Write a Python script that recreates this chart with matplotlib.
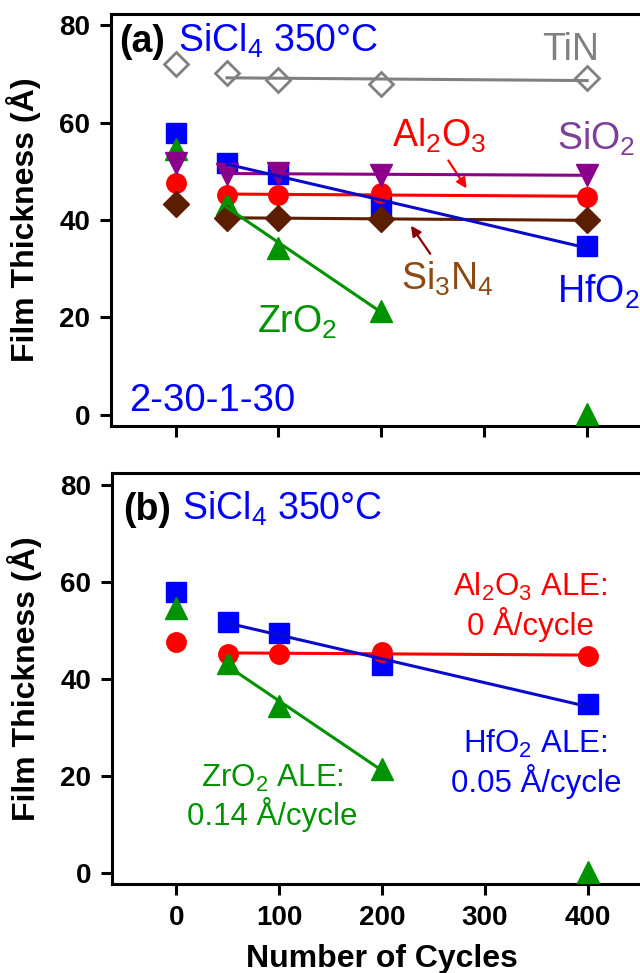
import numpy as np
import matplotlib
matplotlib.use('Agg')
import matplotlib.pyplot as plt
from matplotlib.transforms import blended_transform_factory

plt.rcParams['font.family'] = ['Liberation Sans', 'DejaVu Sans']
plt.rcParams['mathtext.fontset'] = 'custom'
plt.rcParams['mathtext.rm'] = 'Liberation Sans'
plt.rcParams['mathtext.it'] = 'Liberation Sans:italic'
plt.rcParams['mathtext.bf'] = 'Liberation Sans:bold'

# film thickness (A) vs number of cycles
cycles = [0, 50, 100, 200, 400]
tin = [72.1, 70.1, 68.7, 68.0, 69.1]
sio2 = [51.8, 49.5, 49.6, 49.3, 49.2]
al2o3 = [47.5, 45.2, 45.1, 45.6, 44.7]
hfo2 = [57.8, 51.8, 49.4, 42.9, 34.7]
zro2 = [54.6, 43.3, 34.3, 21.4, 0.2]
si3n4 = [43.3, 40.4, 40.4, 40.3, 39.9]

c_tin = '#808080'
c_sio2 = '#8b008b'
c_al = '#ff0000'
c_hf = '#0000ff'
c_zr = '#009300'
c_sin = '#5c1e00'


def fit_line(ax, x, y, color, last=None):
    x = np.array(x[1:last])
    y = np.array(y[1:last])
    p = np.polyfit(x, y, 1)
    xx = np.array([x[0], x[-1]])
    ax.plot(xx, np.polyval(p, xx), color=color, lw=2.2, zorder=5)


def style(ax, ylim):
    ax.set_xlim(-62.7, 460)
    ax.set_ylim(*ylim)
    ax.set_xticks([0, 100, 200, 300, 400])
    ax.set_yticks([0, 20, 40, 60, 80])
    ax.spines['right'].set_visible(False)
    for s in ax.spines.values():
        s.set_linewidth(2.2)
    ax.tick_params(direction='out', length=8, width=2.2, labelsize=20, pad=7)
    for lab in ax.get_xticklabels() + ax.get_yticklabels():
        lab.set_fontweight('bold')
    ax.set_ylabel('Film Thickness (Å)', fontsize=23, fontweight='bold')
    ax.yaxis.set_label_coords(-0.13, 0.5)


fig = plt.figure(figsize=(6.4, 9.73), dpi=100)
ax1 = fig.add_axes([0.1734, 0.5622, 0.8406, 0.4234])
ax2 = fig.add_axes([0.175, 0.0912, 0.84, 0.4230])

# ---- (a)
ax1.plot(cycles, hfo2, 's', color=c_hf, ms=15, zorder=3)
ax1.plot(cycles, al2o3, 'o', color=c_al, ms=14, zorder=3)
ax1.plot(cycles, zro2, '^', color=c_zr, ms=16, zorder=3)
ax1.plot(cycles, sio2, 'v', color=c_sio2, ms=16, zorder=3)
ax1.plot(cycles, si3n4, 'D', color=c_sin, ms=13.5, zorder=3)
ax1.plot(cycles, tin, 'D', color=c_tin, mfc='white', mew=2, ms=12.5, zorder=3)

fit_line(ax1, cycles, tin, c_tin)
fit_line(ax1, cycles, sio2, c_sio2)
fit_line(ax1, cycles, al2o3, c_al)
fit_line(ax1, cycles, si3n4, c_sin)
fit_line(ax1, cycles, hfo2, '#0a0acc')
fit_line(ax1, cycles, zro2, c_zr, last=4)

style(ax1, (-2.3, 82.3))
ax1.tick_params(labelbottom=False)

ax1.text(-55, 74.5, '(a)', fontsize=27, fontweight='bold', va='baseline')
ax1.text(2.0, 74.5, 'SiCl$_4$ 350°C', fontsize=27, color=c_hf, va='baseline')
ax1.text(384, 72.8, 'TiN', fontsize=27, color=c_tin, ha='center', va='baseline')
ax1.text(256, 55.0, 'Al$_2$O$_3$', fontsize=27, color=c_al, ha='center', va='baseline')
ax1.text(371.0, 54.4, 'SiO$_2$', fontsize=27, color='#7f3f98', va='baseline')
ax1.text(219.5, 25.6, 'Si$_3$N$_4$', fontsize=27, color='#8c4a12', va='baseline')
ax1.text(371.0, 23.0, 'HfO$_2$', fontsize=27, color=c_hf, va='baseline')
ax1.text(79.0, 16.8, 'ZrO$_2$', fontsize=27, color=c_zr, va='baseline')
ax1.text(-45, 0.7, '2-30-1-30', fontsize=27.5, color=c_hf, va='baseline')

ax1.annotate('', xy=(284.3, 46.0), xytext=(263.6, 52.7),
             arrowprops=dict(arrowstyle='-|>', color=c_al, lw=1.6, mutation_scale=15))
ax1.annotate('', xy=(227.2, 39.3), xytext=(249, 32.6),
             arrowprops=dict(arrowstyle='-|>', color='#8b0000', lw=1.6, mutation_scale=15))

# ---- (b)
ax2.plot(cycles, hfo2, 's', color=c_hf, ms=15, zorder=3)
ax2.plot(cycles, al2o3, 'o', color=c_al, ms=14, zorder=3)
ax2.plot(cycles, zro2, '^', color=c_zr, ms=16, zorder=3)

fit_line(ax2, cycles, al2o3, c_al)
fit_line(ax2, cycles, hfo2, '#0a0acc')
fit_line(ax2, cycles, zro2, c_zr, last=4)

style(ax2, (-2.4, 82.5))
ax2.set_xlabel('Number of Cycles', fontsize=23, fontweight='bold')
ax2.xaxis.set_label_coords(200, -0.146,
                           transform=blended_transform_factory(ax2.transData, ax2.transAxes))

ax2.text(-52, 72.8, '(b)', fontsize=27, fontweight='bold', va='baseline')
ax2.text(5.5, 72.8, 'SiCl$_4$ 350°C', fontsize=27, color=c_hf, va='baseline')
ax2.text(344, 57.0, 'Al$_2$O$_3$ ALE:', fontsize=22.5, color=c_al, ha='center', va='baseline')
ax2.text(344, 49.1, '0 Å/cycle', fontsize=22.5, color=c_al, ha='center', va='baseline')
ax2.text(349, 24.6, 'HfO$_2$ ALE:', fontsize=22.5, color=c_hf, ha='center', va='baseline')
ax2.text(350, 16.7, '0.05 Å/cycle', fontsize=22.5, color=c_hf, ha='center', va='baseline')
ax2.text(93.3, 17.7, 'ZrO$_2$ ALE:', fontsize=22.5, color=c_zr, ha='center', va='baseline')
ax2.text(93.2, 9.8, '0.14 Å/cycle', fontsize=22.5, color=c_zr, ha='center', va='baseline')

plt.savefig('out.png', dpi=100)
